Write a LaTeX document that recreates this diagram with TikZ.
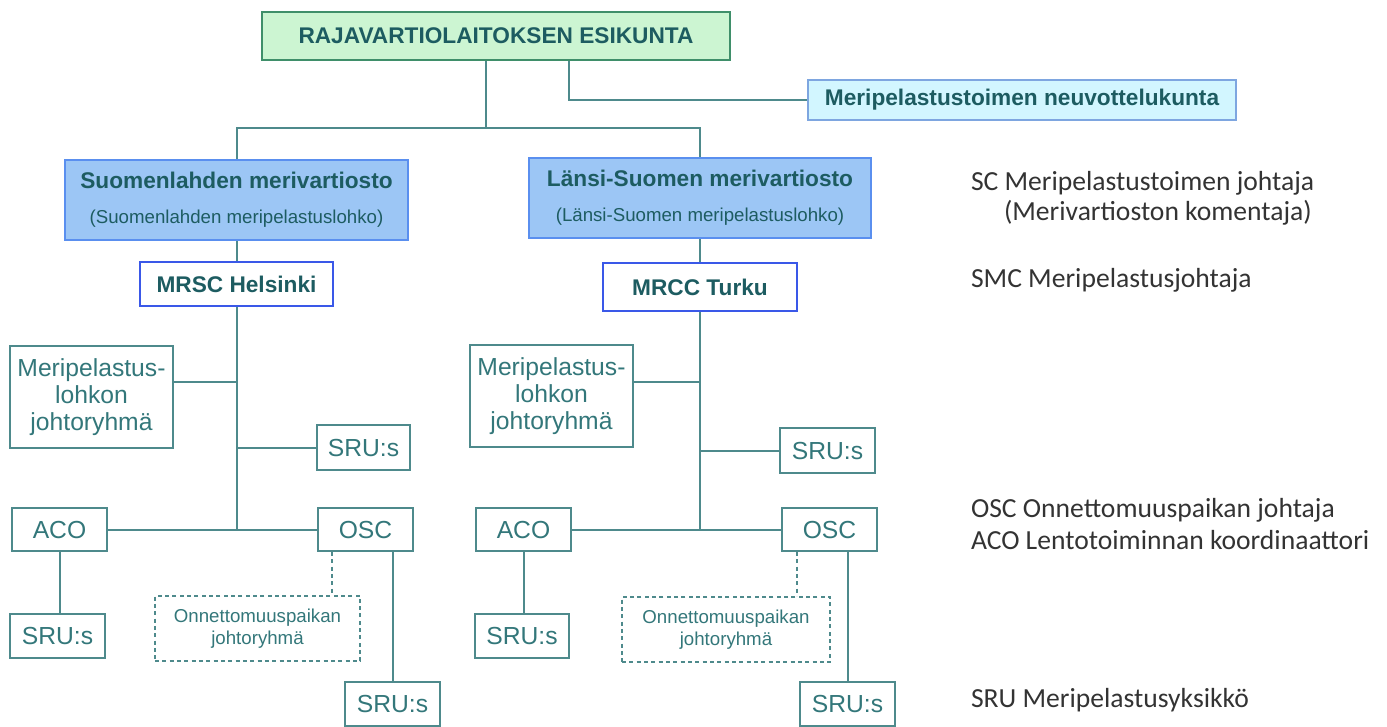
\documentclass[tikz,border=0pt]{standalone}
\usepackage{fontspec}
\setmainfont{Liberation Sans}
\newfontfamily\legendfont{Carlito}
\usetikzlibrary{positioning}

\definecolor{lineteal}{HTML}{4E8A8C}
\definecolor{darkteal}{HTML}{1D5C61}
\definecolor{boxteal}{HTML}{33777A}
\definecolor{hqfill}{HTML}{CCF5D2}
\definecolor{hqedge}{HTML}{3F8F6A}
\definecolor{mvfill}{HTML}{9CC6F5}
\definecolor{mvedge}{HTML}{5A8FEF}
\definecolor{nkfill}{HTML}{D2F6FF}
\definecolor{nkedge}{HTML}{7EA6E0}
\definecolor{mrcedge}{HTML}{3A58E8}
\definecolor{legendgray}{HTML}{333333}

\newcommand{\subfont}{\fontsize{14}{16}\selectfont\mdseries}

\tikzset{
  headbox/.style={draw, inner sep=0pt, text=darkteal, align=center,
    font=\bfseries\fontsize{17}{20}\selectfont},
  plainbox/.style={draw=lineteal, fill=white, inner sep=0pt, text=boxteal,
    align=center, font=\fontsize{18.5}{20.5}\selectfont},
  groupbox/.style={plainbox, dash pattern=on 3pt off 2.5pt,
    font=\fontsize{14}{17}\selectfont},
  legend/.style={anchor=west, inner sep=0pt, text=legendgray,
    font=\legendfont\fontsize{20.7}{24}\selectfont}
}

\begin{document}
\begin{tikzpicture}[x=0.75pt, y=-0.75pt, line width=1.5pt, color=lineteal]

    \useasboundingbox (0,0) rectangle (1387,726);

    \begin{scope}[every node/.style={headbox}]
    \node[fill=hqfill, draw=hqedge, minimum width=351pt, minimum height=36pt] (hq) at (496,36) {RAJAVARTIOLAITOKSEN ESIKUNTA};
    \node[fill=nkfill, draw=nkedge, minimum width=321pt, minimum height=30pt] (nk) at (1022,100) {Meripelastustoimen neuvottelukunta};
    \node[fill=mvfill, draw=mvedge, minimum width=257pt, minimum height=60pt] (sl) at (236.5,200) {Suomenlahden merivartiosto\\[6pt]{\subfont (Suomenlahden meripelastuslohko)}};
    \node[fill=mvfill, draw=mvedge, minimum width=257pt, minimum height=60pt] (ls) at (700,198) {Länsi-Suomen merivartiosto\\[6pt]{\subfont (Länsi-Suomen meripelastuslohko)}};
    \node[fill=white, draw=mrcedge, minimum width=145pt, minimum height=33pt] (mh) at (236.5,284) {MRSC Helsinki};
    \node[fill=white, draw=mrcedge, minimum width=145pt, minimum height=36pt] (mt) at (700,287) {MRCC Turku};
    \end{scope}

    \begin{scope}[every node/.style={plainbox}]
    \node[minimum width=122pt, minimum height=77pt] (mj1) at (91.5,397) {Meripelastus-\\lohkon\\johtoryhmä};
    \node[minimum width=122pt, minimum height=77pt] (mj2) at (551.5,396) {Meripelastus-\\lohkon\\johtoryhmä};
    \node[minimum width=70pt, minimum height=34pt] (sr1) at (363.5,447.5) {SRU:s};
    \node[minimum width=71pt, minimum height=34pt] (sr2) at (827.5,450.5) {SRU:s};
    \node[minimum width=71pt, minimum height=32pt] (aco1) at (59.5,529.5) {ACO};
    \node[minimum width=71pt, minimum height=32pt] (osc1) at (365.5,529.5) {OSC};
    \node[minimum width=71pt, minimum height=32pt] (aco2) at (523.5,529.5) {ACO};
    \node[minimum width=71pt, minimum height=32pt] (osc2) at (829.5,529.5) {OSC};
    \node[minimum width=71pt, minimum height=33pt] (sa1) at (57.5,636) {SRU:s};
    \node[minimum width=71pt, minimum height=33pt] (sa2) at (522,636) {SRU:s};
    \node[minimum width=71pt, minimum height=33pt] (so1) at (392.5,704) {SRU:s};
    \node[minimum width=71pt, minimum height=33pt] (so2) at (847.5,704) {SRU:s};
    \node[groupbox, minimum width=154pt, minimum height=49pt] (og1) at (257.5,628.5) {Onnettomuuspaikan\\johtoryhmä};
    \node[groupbox, minimum width=156pt, minimum height=49pt] (og2) at (726,629.5) {Onnettomuuspaikan\\johtoryhmä};
    \end{scope}

    \node[legend] (scl) at (970,183) {SC Meripelastustoimen johtaja};
    \node[legend] (sckl) at (1003,213) {(Merivartioston komentaja)};
    \node[legend] (smcl) at (970,280) {SMC Meripelastusjohtaja};
    \node[legend] (oscl) at (970,510) {OSC Onnettomuuspaikan johtaja};
    \node[legend] (acol) at (970,540) {ACO Lentotoiminnan koordinaattori};
    \node[legend] (srul) at (970,700) {SRU Meripelastusyksikkö};

    \coordinate (split) at (486,128);
    \coordinate (nkbend) at (569,100);
    \path ([yshift=11pt]mj1.east) coordinate (b1);
    \path ([yshift=10.5pt]mj2.east) coordinate (b2);
    \path ([xshift=11pt]osc1.south west) coordinate (d1);
    \path ([xshift=12pt]osc2.south west) coordinate (d2);

    \draw (hq.south -| split) -- (split);
    \draw (sl.north) |- (split) -| (ls.north);
    \draw (hq.south -| nkbend) |- (nk.west);
    \draw (sl.south) -- (mh.north);
    \draw (ls.south) -- (mt.north);

    \draw (mh.south) -- (mh.south |- aco1.east);
    \draw (aco1.east) -- (osc1.west);
    \draw (b1) -- (b1 -| mh.south);
    \draw (sr1.west) -- (sr1.west -| mh.south);
    \draw (aco1.south) -- (aco1.south |- sa1.north);
    \draw[dash pattern=on 3pt off 2.5pt] (d1) -- (d1 |- og1.north);
    \draw (so1.north) -- (so1.north |- osc1.south);

    \draw (mt.south) -- (mt.south |- aco2.east);
    \draw (aco2.east) -- (osc2.west);
    \draw (b2) -- (b2 -| mt.south);
    \draw (sr2.west) -- (sr2.west -| mt.south);
    \draw (aco2.south) -- (aco2.south |- sa2.north);
    \draw[dash pattern=on 3pt off 2.5pt] (d2) -- (d2 |- og2.north);
    \draw (so2.north) -- (so2.north |- osc2.south);

\end{tikzpicture}
\end{document}
